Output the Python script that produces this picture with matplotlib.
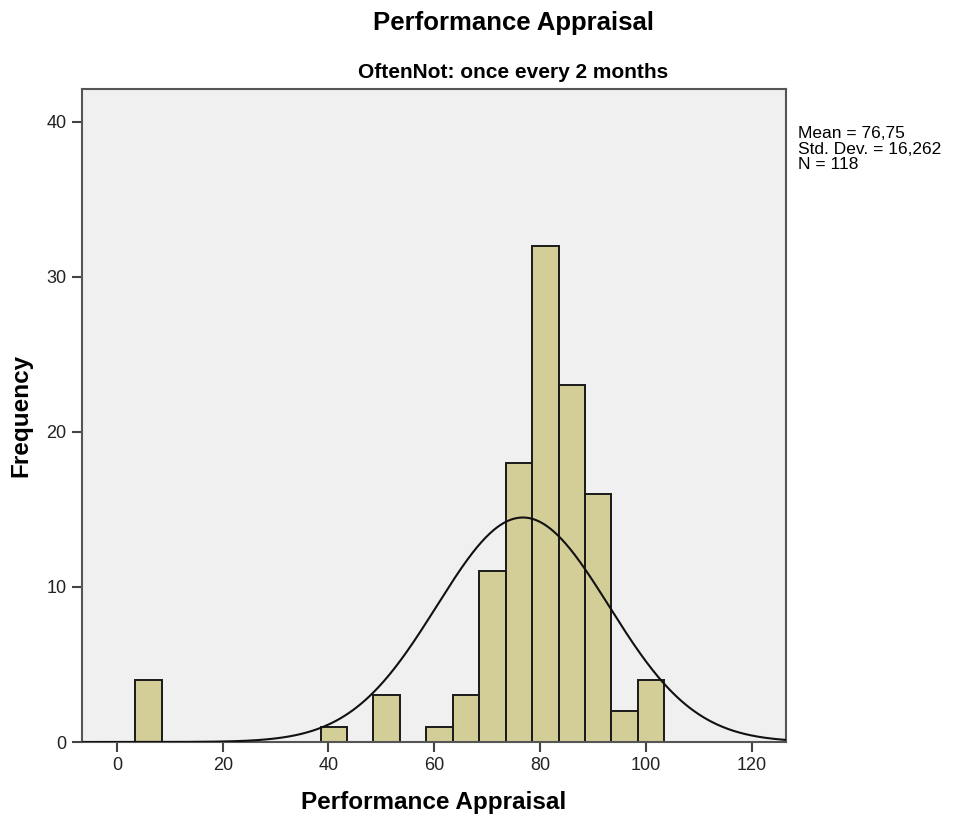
import numpy as np
import matplotlib
matplotlib.use("Agg")
import matplotlib.pyplot as plt

plt.rcParams['font.family'] = ['Liberation Sans', 'DejaVu Sans']

# histogram data (bin width 5)
bin_edges = [3.5, 8.5, 13.5, 18.5, 23.5, 28.5, 33.5, 38.5, 43.5, 48.5, 53.5,
             58.5, 63.5, 68.5, 73.5, 78.5, 83.5, 88.5, 93.5, 98.5, 103.5]
counts = [4, 0, 0, 0, 0, 0, 0, 1, 0, 3, 0, 1, 3, 11, 18, 32, 23, 16, 2, 4]
mean_val = 76.75
std_val = 16.262
n_val = 118
x_ticks = [0, 20, 40, 60, 80, 100, 120]
y_ticks = [0, 10, 20, 30, 40]

fig = plt.figure(figsize=(9.57, 8.23), dpi=100)
ax = fig.add_axes([0.0857, 0.0984, 0.7356, 0.7935])
ax.set_facecolor('#F0F0F0')

lefts = np.array(bin_edges[:-1])
widths = np.diff(bin_edges)
for x0, w, c in zip(lefts, widths, counts):
    if c > 0:
        ax.bar(x0, c, width=w, align='edge', color='#D3CE97',
               edgecolor='#1a1a1a', linewidth=1.4, zorder=2)

# normal curve
xs = np.linspace(-6.6, 126.5, 500)
scale = n_val * 5
ys = scale / (std_val * np.sqrt(2 * np.pi)) * np.exp(-0.5 * ((xs - mean_val) / std_val) ** 2)
ax.plot(xs, ys, color='#111111', linewidth=1.5, zorder=3)

ax.set_xlim(-6.6, 126.5)
ax.set_ylim(0, 42.1)
ax.set_xticks(x_ticks)
ax.set_yticks(y_ticks)
ax.tick_params(direction='out', length=7, width=1.5, color='#444444',
               labelsize=13, labelcolor='#222222', pad=4)
for s in ax.spines.values():
    s.set_color('#555555')
    s.set_linewidth(1.5)

ax.set_xlabel('Performance Appraisal', fontsize=17.5, fontweight='bold', labelpad=12)
ax.set_ylabel('Frequency', fontsize=17.5, fontweight='bold', labelpad=10)

fig.text(0.5366, 0.972, 'Performance Appraisal', ha='center', va='center',
         fontsize=18.5, fontweight='bold')
fig.text(0.5366, 0.912, 'OftenNot: once every 2 months', ha='center', va='center',
         fontsize=15, fontweight='bold')

fig.text(0.834, 0.847,
         'Mean = 76,75\nStd. Dev. = 16,262\nN = 118',
         ha='left', va='top', fontsize=12.5, linespacing=1.05)

fig.savefig('out.png', dpi=100)
